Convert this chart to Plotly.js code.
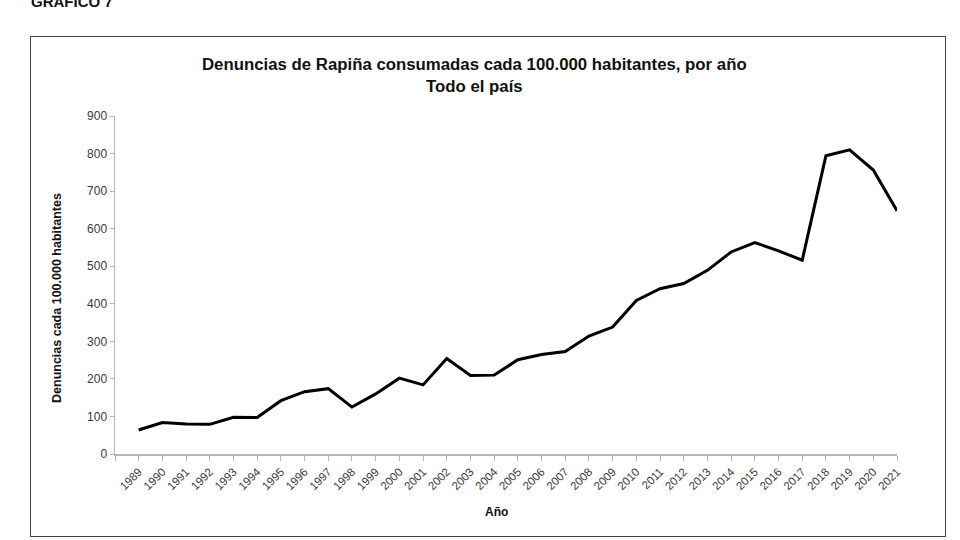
<!DOCTYPE html>
<html>
<head>
<meta charset="utf-8">
<script src="https://cdn.plot.ly/plotly-3.0.1.min.js"></script>
<style>
  html, body { margin: 0; padding: 0; background: #fff; }
  #wrap { position: relative; width: 960px; height: 540px; overflow: hidden; }
  #frame { position: absolute; left: 30px; top: 36px; width: 914px; height: 499px; border: 1.5px solid #444; box-sizing: content-box; }
  #graf { position: absolute; left: 31px; top: -7px; font: bold 15px "Liberation Sans", Arial, sans-serif; line-height: 17px; color: #111; }
  #chart { position: absolute; left: 0; top: 0; width: 960px; height: 540px; }
</style>
</head>
<body>
<div id="wrap">
  <div id="frame"></div>
  <div id="chart"></div>
  <div id="graf">GRAFICO 7</div>
</div>
<script>
const years = [1989,1990,1991,1992,1993,1994,1995,1996,1997,1998,1999,2000,2001,2002,2003,2004,2005,2006,2007,2008,2009,2010,2011,2012,2013,2014,2015,2016,2017,2018,2019,2020,2021];
const values = [64,84,80,79,98,97,142,166,174,125,160,202,184,254,209,210,251,265,273,314,338,409,440,454,489,538,563,541,516,794,810,756,648];
const titleLines = ["Denuncias de Rapiña consumadas cada 100.000 habitantes, por año", "Todo el país"];
const yTitle = "Denuncias cada 100.000 habitantes";
const xTitle = "Año";

const tickVals = [years[0] - 1].concat(years);
const tickText = [""].concat(years.map(String));

const trace = {
  x: years, y: values, type: "scatter", mode: "lines",
  line: { color: "#000", width: 3 },
  hoverinfo: "x+y"
};

const layout = {
  width: 960, height: 540,
  margin: { l: 115, r: 63, t: 116, b: 86 },
  paper_bgcolor: "rgba(0,0,0,0)", plot_bgcolor: "rgba(0,0,0,0)",
  showlegend: false,
  font: { family: "Liberation Sans, Arial, sans-serif", color: "#444" },
  xaxis: {
    range: [years[0] - 1, years[years.length - 1]],
    tickmode: "array", tickvals: tickVals, ticktext: tickText,
    tickangle: -45, tickfont: { size: 11.5, color: "#3a3a3a" },
    ticks: "outside", ticklen: 5, tickcolor: "#b5b5b5", tickwidth: 1,
    showline: true, linecolor: "#b5b5b5", linewidth: 1.5,
    showgrid: false, zeroline: false, fixedrange: true
  },
  yaxis: {
    range: [0, 900], tickmode: "linear", tick0: 0, dtick: 100,
    tickfont: { size: 12, color: "#3a3a3a" },
    ticks: "outside", ticklen: 4, tickcolor: "#b5b5b5", tickwidth: 1,
    showline: true, linecolor: "#b5b5b5", linewidth: 1.5,
    showgrid: false, zeroline: false, fixedrange: true
  },
  annotations: [
    { text: "<b>" + titleLines[0] + "</b><br><b>" + titleLines[1] + "</b>",
      xref: "paper", yref: "paper", x: 0.46, y: 1.12, xanchor: "center", yanchor: "middle",
      showarrow: false, font: { size: 16.8, color: "#111" }, align: "center" },
    { text: "<b>" + yTitle + "</b>", xref: "paper", yref: "paper",
      x: -0.074, y: 0.462, xanchor: "center", yanchor: "middle", textangle: -90,
      showarrow: false, font: { size: 12.5, color: "#111" } },
    { text: "<b>" + xTitle + "</b>", xref: "paper", yref: "paper",
      x: 0.488, y: -0.172, xanchor: "center", yanchor: "middle",
      showarrow: false, font: { size: 12, color: "#111" } }
  ]
};

Plotly.newPlot("chart", [trace], layout, { displayModeBar: false, staticPlot: true });
</script>
</body>
</html>
